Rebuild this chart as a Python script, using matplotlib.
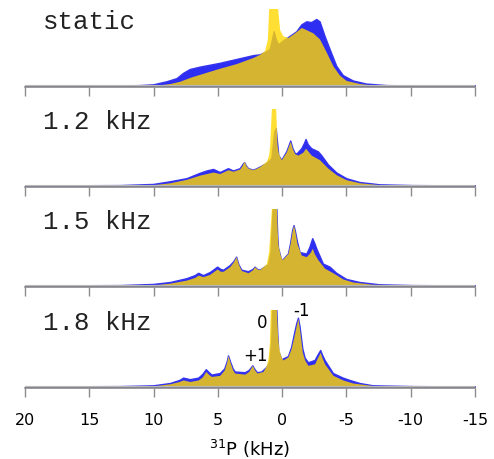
import matplotlib
matplotlib.use("Agg")
import matplotlib.pyplot as plt
import numpy as np

# 31P spectra, static and at three spinning rates (intensity scaled to panel height)
labels = ["static", "1.2 kHz", "1.5 kHz", "1.8 kHz"]

static_blue_x = [20, 12.6, 11.06, 10.03, 8.99, 8.22, 7.70, 7.18, 6.41, 4.85, 3.56, 2.26, 1.75, 1.36,
                 0.97, 0.76, 0.66, 0.50, 0.32, -0.06, -0.58, -1.10, -1.49, -1.88, -2.26, -2.65, -2.91,
                 -3.30, -3.69, -4.21, -4.72, -5.50, -6.53, -8.09, -10.16, -15]
static_blue_y = [0.005, 0.005, 0.01, 0.02, 0.06, 0.10, 0.17, 0.22, 0.25, 0.30, 0.35, 0.40, 0.41, 0.44,
                 0.48, 0.63, 0.71, 0.61, 0.54, 0.59, 0.65, 0.71, 0.80, 0.84, 0.83, 0.87, 0.84,
                 0.65, 0.48, 0.26, 0.14, 0.07, 0.03, 0.01, 0.005, 0.005]
static_yellow_x = [20, 12.6, 10.03, 8.73, 7.96, 7.18, 6.41, 4.85, 3.56, 2.26, 1.75, 1.36, 1.15, 1.05,
                   0.70, 0.35, 0.19, -0.06, -0.45, -0.97, -1.49, -1.88, -2.39, -2.91, -3.43, -3.95,
                   -4.46, -4.98, -6.02, -7.05, -8.09, -15]
static_yellow_y = [0.005, 0.005, 0.005, 0.03, 0.06, 0.11, 0.15, 0.23, 0.29, 0.37, 0.41, 0.46, 0.61, 1.0,
                   1.6, 1.0, 0.73, 0.65, 0.63, 0.69, 0.76, 0.73, 0.69, 0.61, 0.44, 0.26,
                   0.14, 0.07, 0.03, 0.01, 0.005, 0.005]

r12_blue_x = [20, 12.62, 10.03, 8.73, 7.44, 6.41, 5.89, 5.37, 4.85, 4.21, 3.82, 3.30, 3.1, 2.96, 2.8,
              2.65, 2.26, 1.75, 1.23, 0.84, 0.62, 0.50, 0.30, 0.06, -0.32, -0.5, -0.63, -0.8, -0.97,
              -1.10, -1.49, -1.70, -1.82, -2.0, -2.26, -2.78, -3.04, -3.56, -4.21, -4.98, -6.02,
              -7.57, -10.16, -15]
r12_blue_y = [0.005, 0.01, 0.025, 0.06, 0.10, 0.17, 0.20, 0.22, 0.18, 0.23, 0.20, 0.23, 0.28, 0.31, 0.26,
              0.23, 0.21, 0.25, 0.30, 0.36, 0.70, 0.75, 0.40, 0.34, 0.45, 0.53, 0.59, 0.49, 0.43,
              0.42, 0.49, 0.56, 0.61, 0.54, 0.49, 0.45, 0.40, 0.28, 0.175, 0.10, 0.05,
              0.02, 0.01, 0.005]
r12_yellow_x = [20, 12.62, 10.03, 8.73, 7.44, 6.41, 5.37, 4.85, 4.21, 3.82, 3.30, 3.1, 2.96, 2.8, 2.65,
                2.26, 1.75, 1.23, 1.05, 0.97, 0.84, 0.66, 0.50, 0.40, 0.30, 0.19, 0.06, -0.32, -0.5,
                -0.63, -0.8, -0.97, -1.23, -1.62, -1.82, -2.26, -2.91, -3.56, -4.21, -4.98, -6.02,
                -7.57, -10.16, -15]
r12_yellow_y = [0.005, 0.01, 0.015, 0.04, 0.085, 0.14, 0.18, 0.16, 0.21, 0.19, 0.22, 0.27, 0.32, 0.26, 0.23,
                0.21, 0.25, 0.32, 0.40, 0.53, 1.0, 1.5, 1.0, 0.53, 0.43, 0.38, 0.34, 0.44, 0.52,
                0.58, 0.48, 0.42, 0.40, 0.44, 0.49, 0.40, 0.34, 0.23, 0.145, 0.08, 0.04,
                0.015, 0.01, 0.005]

r15_blue_x = [20, 12.62, 10.03, 8.73, 7.44, 6.8, 6.53, 6.15, 5.63, 5.3, 5.06, 4.8, 4.59, 4.08, 3.8,
              3.58, 3.4, 3.17, 2.65, 2.3, 2.14, 1.95, 1.75, 1.23, 1.10, 0.90, 0.74, 0.60, 0.45, 0.38,
              0.32, 0.06, -0.45, -0.62, -0.78, -0.89, -1.0, -1.15, -1.36, -1.88, -2.1, -2.34, -2.5,
              -2.65, -3.17, -3.69, -4.21, -4.98, -6.02, -7.57, -10.16, -15]
r15_blue_y = [0.005, 0.01, 0.025, 0.05, 0.10, 0.14, 0.17, 0.14, 0.18, 0.22, 0.25, 0.22, 0.21, 0.27, 0.32,
              0.38, 0.28, 0.21, 0.19, 0.22, 0.25, 0.22, 0.21, 0.27, 0.28, 0.45, 1.0, 1.3, 1.0, 0.66,
              0.50, 0.33, 0.42, 0.56, 0.73, 0.79, 0.71, 0.58, 0.44, 0.42, 0.50, 0.62, 0.56,
              0.49, 0.29, 0.25, 0.17, 0.09, 0.05, 0.02, 0.01, 0.005]
r15_yellow_x = [20, 12.62, 10.03, 8.73, 7.44, 6.8, 6.53, 6.15, 5.63, 5.3, 5.06, 4.8, 4.59, 4.08, 3.8,
                3.58, 3.4, 3.17, 2.65, 2.3, 2.14, 1.95, 1.75, 1.23, 1.05, 0.97, 0.84, 0.66, 0.45, 0.38,
                0.32, 0.15, 0.0, -0.45, -0.62, -0.78, -0.89, -1.0, -1.15, -1.49, -1.88, -2.2, -2.34,
                -2.5, -2.78, -3.30, -3.95, -4.72, -5.50, -7.05, -10.16, -15]
r15_yellow_y = [0.005, 0.01, 0.013, 0.035, 0.075, 0.11, 0.14, 0.12, 0.15, 0.19, 0.22, 0.19, 0.19, 0.25, 0.31,
                0.38, 0.28, 0.20, 0.17, 0.21, 0.25, 0.22, 0.21, 0.29, 0.45, 0.66, 1.0, 1.5, 1.05, 0.70,
                0.53, 0.40, 0.34, 0.42, 0.55, 0.72, 0.79, 0.70, 0.55, 0.40, 0.38, 0.44, 0.49,
                0.42, 0.34, 0.23, 0.17, 0.09, 0.05, 0.02, 0.01, 0.005]

r18_blue_x = [20, 12.62, 10.03, 8.73, 8.0, 7.70, 7.18, 6.53, 6.2, 5.94, 5.7, 5.50, 4.85, 4.5, 4.3,
              4.21, 4.05, 3.85, 3.69, 2.91, 2.6, 2.32, 2.15, 1.95, 1.62, 1.23, 1.0, 0.85, 0.78, 0.62,
              0.45, 0.38, 0.30, 0.06, -0.45, -0.70, -0.95, -1.10, -1.23, -1.35, -1.57, -1.75, -2.01,
              -2.52, -2.75, -2.96, -3.10, -3.30, -3.95, -4.72, -5.24, -6.02, -7.05, -10.16, -15]
r18_blue_y = [0.005, 0.01, 0.02, 0.05, 0.09, 0.12, 0.10, 0.12, 0.17, 0.23, 0.19, 0.16, 0.18, 0.24, 0.34,
              0.41, 0.33, 0.24, 0.20, 0.19, 0.22, 0.28, 0.23, 0.19, 0.20, 0.26, 0.33, 0.60, 1.0, 1.3,
              1.0, 0.70, 0.47, 0.36, 0.40, 0.52, 0.72, 0.83, 0.90, 0.79, 0.50, 0.38, 0.32,
              0.35, 0.42, 0.48, 0.42, 0.35, 0.18, 0.12, 0.09, 0.05, 0.02, 0.01, 0.005]
r18_yellow_x = [20, 12.62, 10.03, 8.73, 8.0, 7.70, 7.18, 6.53, 6.2, 5.94, 5.7, 5.50, 4.85, 4.5, 4.3,
                4.21, 4.05, 3.85, 3.69, 2.91, 2.6, 2.32, 2.15, 1.95, 1.49, 1.25, 1.10, 1.0, 0.92, 0.70,
                0.45, 0.35, 0.25, 0.1, -0.06, -0.45, -0.70, -0.95, -1.10, -1.23, -1.35, -1.57, -1.75,
                -2.01, -2.52, -2.75, -2.96, -3.10, -3.30, -3.95, -4.72, -5.50, -7.05, -10.16, -15]
r18_yellow_y = [0.005, 0.01, 0.013, 0.04, 0.07, 0.09, 0.07, 0.09, 0.13, 0.20, 0.16, 0.135, 0.15, 0.22, 0.33,
                0.41, 0.32, 0.22, 0.18, 0.165, 0.20, 0.28, 0.22, 0.18, 0.20, 0.27, 0.37, 0.55, 1.0, 1.5,
                1.0, 0.65, 0.49, 0.40, 0.35, 0.39, 0.50, 0.68, 0.80, 0.89, 0.75, 0.45, 0.35,
                0.28, 0.30, 0.38, 0.45, 0.38, 0.30, 0.15, 0.09, 0.05, 0.017, 0.01, 0.005]

blue_sets = [(static_blue_x, static_blue_y), (r12_blue_x, r12_blue_y),
             (r15_blue_x, r15_blue_y), (r18_blue_x, r18_blue_y)]
yellow_sets = [(static_yellow_x, static_yellow_y), (r12_yellow_x, r12_yellow_y),
               (r15_yellow_x, r15_yellow_y), (r18_yellow_x, r18_yellow_y)]

# sideband orders marked on the 1.8 kHz trace
sb_text = ["0", "-1", "+1"]
sb_x = [1.55, -1.5, 2.06]
sb_y = [0.85, 1.0, 0.41]

xticks = [20, 15, 10, 5, 0, -5, -10, -15]

fig = plt.figure(figsize=(4.94, 4.60), dpi=100)
bottoms = [88, 188, 288, 389]
axs = []
for i in range(4):
    ax = fig.add_axes([25/494, 1 - bottoms[i]/460, 450/494, 78/460])
    axs.append(ax)
    bx, by = blue_sets[i]
    yx, yy = yellow_sets[i]
    ax.fill_between(bx, 0, by, color="#2e2ef2", lw=1.0, edgecolor="#3535f0")
    ax.fill_between(yx, 0, yy, color="#ffd700", alpha=0.8, lw=0)
    ax.plot([20, -15], [0.005, 0.005], color="#b8b8b8", lw=0.8)
    ax.set_xlim(20, -15)
    ax.set_ylim(-0.015, 1.0)
    for s in ["top", "left", "right"]:
        ax.spines[s].set_visible(False)
    ax.spines["bottom"].set_color("#8c8c8c")
    ax.spines["bottom"].set_linewidth(1.2)
    ax.set_yticks([])
    ax.set_xticks(xticks)
    ax.tick_params(axis="x", direction="out", length=6.5, width=1, color="#8c8c8c",
                   labelsize=11.5, pad=11)
    if i < 3:
        ax.set_xticklabels([])
    ax.text(0.04, 0.845, labels[i], transform=ax.transAxes, family="Liberation Mono",
            fontsize=18.5, va="center", ha="left", color="#222222")

axs[3].set_xticklabels([str(t) for t in xticks])
axs[3].set_xlabel("$^{31}$P (kHz)", fontsize=13, labelpad=7)
for t, x, y in zip(sb_text, sb_x, sb_y):
    axs[3].text(x, y, t, ha="center", va="center", fontsize=12, clip_on=False)

fig.savefig("out.png", dpi=100)
